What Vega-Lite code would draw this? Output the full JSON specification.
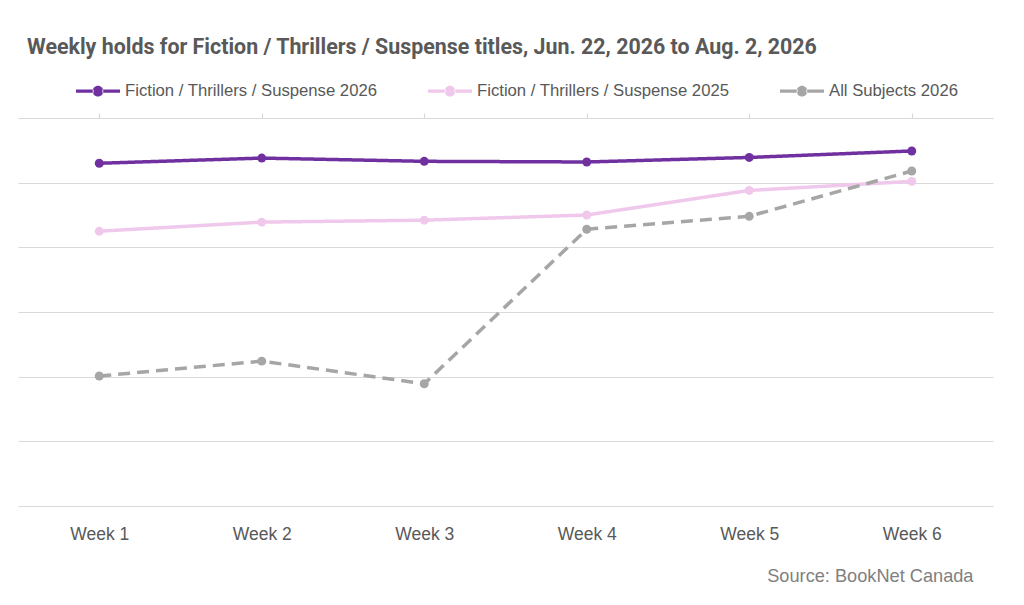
{
  "$schema": "https://vega.github.io/schema/vega-lite/v6.json",
  "autosize": "none",
  "width": 975,
  "height": 388,
  "padding": {"left": 18, "top": 118, "right": 31, "bottom": 99},
  "background": "white",
  "title": {
    "text": "Weekly holds for Fiction / Thrillers / Suspense titles, Jun. 22, 2026 to Aug. 2, 2026",
    "anchor": "start",
    "frame": "group",
    "dx": 9,
    "offset": 11,
    "font": "Roboto",
    "fontSize": 21.4,
    "fontWeight": "bold",
    "color": "#595959"
  },
  "data": {
    "values": [
      {"week": "Week 1", "series": "Fiction / Thrillers / Suspense 2026", "value": 53.0},
      {"week": "Week 2", "series": "Fiction / Thrillers / Suspense 2026", "value": 53.8},
      {"week": "Week 3", "series": "Fiction / Thrillers / Suspense 2026", "value": 53.3},
      {"week": "Week 4", "series": "Fiction / Thrillers / Suspense 2026", "value": 53.2},
      {"week": "Week 5", "series": "Fiction / Thrillers / Suspense 2026", "value": 53.9},
      {"week": "Week 6", "series": "Fiction / Thrillers / Suspense 2026", "value": 54.9},
      {"week": "Week 1", "series": "Fiction / Thrillers / Suspense 2025", "value": 42.5},
      {"week": "Week 2", "series": "Fiction / Thrillers / Suspense 2025", "value": 43.9},
      {"week": "Week 3", "series": "Fiction / Thrillers / Suspense 2025", "value": 44.2},
      {"week": "Week 4", "series": "Fiction / Thrillers / Suspense 2025", "value": 45.0},
      {"week": "Week 5", "series": "Fiction / Thrillers / Suspense 2025", "value": 48.8},
      {"week": "Week 6", "series": "Fiction / Thrillers / Suspense 2025", "value": 50.2},
      {"week": "Week 1", "series": "All Subjects 2026", "value": 20.1},
      {"week": "Week 2", "series": "All Subjects 2026", "value": 22.4},
      {"week": "Week 3", "series": "All Subjects 2026", "value": 18.9},
      {"week": "Week 4", "series": "All Subjects 2026", "value": 42.8},
      {"week": "Week 5", "series": "All Subjects 2026", "value": 44.8},
      {"week": "Week 6", "series": "All Subjects 2026", "value": 51.8}
    ]
  },
  "encoding": {
    "y": {
      "field": "value",
      "type": "quantitative",
      "scale": {"domain": [0, 60], "nice": false, "zero": false},
      "axis": {"title": null, "labels": false, "ticks": false, "domain": false, "grid": true, "values": [0, 10, 20, 30, 40, 50, 60], "gridColor": "#d9d9d9", "gridWidth": 1.2}
    },
    "color": {
      "field": "series",
      "type": "nominal",
      "sort": ["Fiction / Thrillers / Suspense 2026", "Fiction / Thrillers / Suspense 2025", "All Subjects 2026"],
      "scale": {
        "domain": ["Fiction / Thrillers / Suspense 2026", "Fiction / Thrillers / Suspense 2025", "All Subjects 2026"],
        "range": ["#7030a0", "#f0c8ec", "#a6a6a6"]
      },
      "legend": {
        "title": null,
        "orient": "none",
        "legendX": 58,
        "legendY": -49,
        "direction": "horizontal",
        "padding": 0,
        "columnPadding": 50,
        "labelOffset": 5,
        "labelFont": "Liberation Sans",
        "labelFontSize": 16.7,
        "labelColor": "#595959",
        "labelLimit": 400,
        "symbolSize": 1936,
        "symbolType": "M-1,-0.075 L-0.2,-0.075 L-0.2,0.075 L-1,0.075 Z M0.2,-0.075 L1,-0.075 L1,0.075 L0.2,0.075 Z M-0.24,0 A0.24,0.24 0 1,0 0.24,0 A0.24,0.24 0 1,0 -0.24,0 Z",
        "encode": {
          "symbols": {
            "update": {
              "fill": {"scale": "color", "field": "value"},
              "stroke": {"value": "transparent"},
              "strokeWidth": {"value": 0},
              "opacity": {"value": 1}
            }
          }
        }
      }
    }
  },
  "layer": [
    {
      "mark": {"type": "line", "strokeWidth": 3.5, "strokeCap": "butt"},
      "encoding": {
        "x": {
          "field": "week",
          "type": "nominal",
          "scale": {"paddingInner": 0, "paddingOuter": 0},
          "axis": {
            "orient": "bottom",
            "title": "Source: BookNet Canada",
            "titleAnchor": "end",
            "titleAlign": "right",
            "titleX": 955,
            "titleY": 75,
            "titleBaseline": "alphabetic",
            "titleFont": "Liberation Sans",
            "titleFontSize": 18.2,
            "titleFontWeight": "normal",
            "titleColor": "#7f7f7f",
            "labelAngle": 0,
            "labelFont": "Liberation Sans",
            "labelFontSize": 17.5,
            "labelColor": "#595959",
            "labelBaseline": "alphabetic",
            "labelPadding": 33,
            "ticks": false,
            "tickSize": 0,
            "domain": false,
            "grid": false
          }
        },
        "strokeDash": {
          "field": "series",
          "type": "nominal",
          "scale": {
            "domain": ["Fiction / Thrillers / Suspense 2026", "Fiction / Thrillers / Suspense 2025", "All Subjects 2026"],
            "range": [[1, 0], [1, 0], [12, 7]]
          },
          "legend": null
        }
      }
    },
    {
      "mark": {"type": "point", "filled": true, "size": 80, "opacity": 1},
      "encoding": {
        "x": {
          "field": "week",
          "type": "nominal",
          "axis": {
            "orient": "top",
            "title": null,
            "labels": false,
            "ticks": true,
            "tickSize": 5,
            "tickColor": "#d9d9d9",
            "tickWidth": 1.2,
            "bandPosition": 1,
            "tickExtra": true,
            "domain": true,
            "domainColor": "#d9d9d9",
            "domainWidth": 1.2,
            "grid": false
          }
        }
      }
    }
  ],
  "config": {
    "view": {"stroke": null}
  }
}
